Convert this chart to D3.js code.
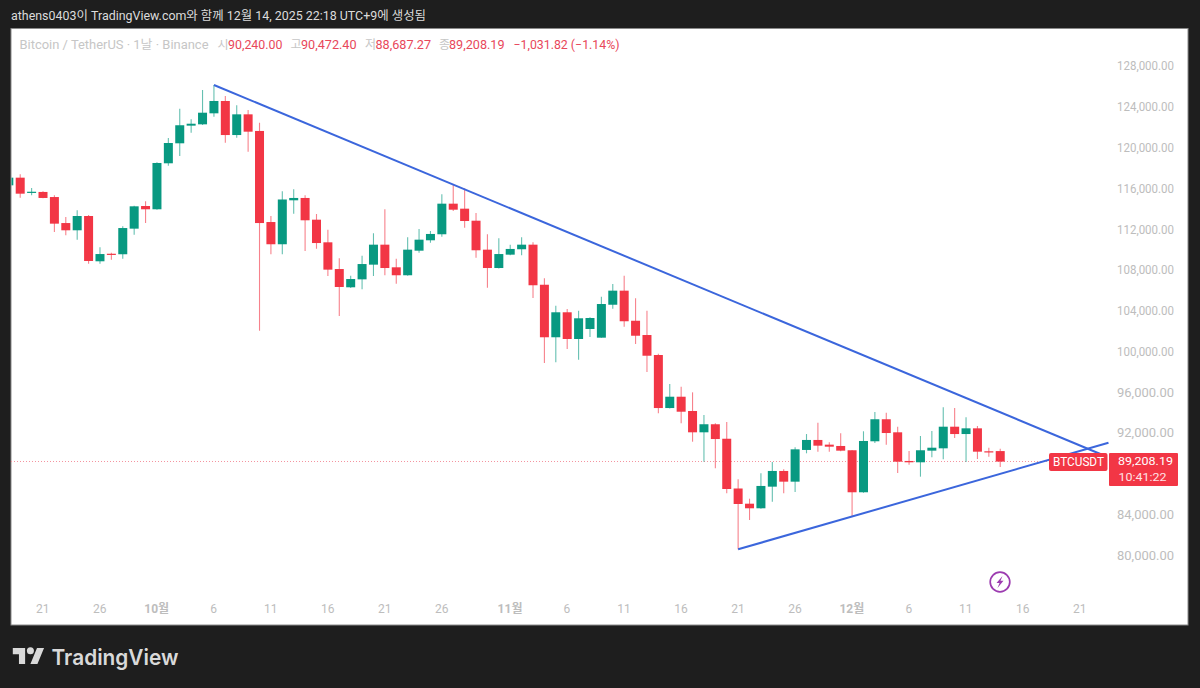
<!DOCTYPE html>
<html lang="ko"><head><meta charset="utf-8">
<script src="https://cdn.jsdelivr.net/npm/d3@7/dist/d3.min.js"></script>
<style>html,body{margin:0;padding:0;background:#1e1e1e}svg{display:block}</style></head>
<body><svg id="c" width="1200" height="688"></svg>
<script>
// One entry per day, 2025-09-18 to 2025-12-14
const firstDay = "2025-09-18", lastDay = "2025-12-14";
const opens = [116300,117050,115580,115650,115150,112600,111890,113290,108850,109590,109540,112050,114270,113950,118460,120420,122150,122280,123360,124570,121230,123260,121630,112700,110520,114830,115060,112930,110710,108090,106300,107080,108520,110480,108260,107480,109890,110910,111500,114500,114010,112830,109990,108190,109500,110030,110480,106550,101400,103850,101230,102210,101360,104590,105970,103020,101620,99660,94460,95570,94170,92080,92870,91450,86570,85080,84630,86750,88290,87240,90350,91330,90870,90740,90320,86200,91200,93360,92080,89270,89140,90280,90510,92630,91910,92470,90220,90240];
const highs = [117210,117380,116040,115710,115320,113190,113850,113390,110220,109690,112280,114300,114730,118560,120940,123810,122770,125650,126140,125060,124150,123690,122440,113290,115710,115910,115320,113490,111950,109140,107440,109400,111590,113950,109100,111200,112020,111820,115420,116330,116010,113590,111500,111100,110480,111200,110710,107180,104500,104170,104000,103360,105380,106620,107440,105220,104000,99790,96820,96550,96000,93780,92960,93090,87470,85570,88060,89170,88450,90610,91910,93020,91100,91980,90350,92180,94070,94000,92630,90250,91720,92210,94530,94460,93550,92700,90570,90472];
const lows = [116135,115090,115320,115030,111720,111400,110970,108610,108610,109010,109100,111460,112600,113900,118220,119170,121460,122210,123030,120480,120970,119600,102040,109550,109540,113520,109860,110080,107410,103490,106230,106100,107410,107480,106650,107430,109690,110670,111260,113780,112140,109200,106260,108140,109440,109440,105250,98880,98950,100250,99200,101430,101360,104200,102440,100740,98000,93940,94410,92960,91160,89200,88550,86100,80610,83480,84580,85280,86100,86230,90020,90180,90180,90230,83800,86150,91030,90870,88090,88900,87730,89630,89430,91520,89170,89460,89690,88687];
const closes = [117050,115480,115670,115060,112540,111890,113290,108880,109560,109500,112110,114240,113950,118490,120450,122190,122340,123420,124570,121230,123260,121560,112600,110520,114910,115060,112870,110640,108030,106330,107110,108580,110480,108190,107480,109990,110970,111530,114500,113910,112800,109930,108190,109560,110060,110480,106500,101400,103850,101230,103260,103290,104660,105970,102970,101550,99590,94460,95570,94100,92080,92870,91420,86520,85050,84630,86820,88290,87240,90410,91330,90770,90670,90280,86200,91230,93360,92010,89200,89140,90320,90570,92630,91910,92470,90180,90150,89208.19];

const priceTicks = [128000,124000,120000,116000,112000,108000,104000,100000,96000,92000,84000,80000];
const dateTicks = ["2025-09-21","2025-09-26","2025-10-01","2025-10-06","2025-10-11","2025-10-16","2025-10-21","2025-10-26","2025-11-01","2025-11-06","2025-11-11","2025-11-16","2025-11-21","2025-11-26","2025-12-01","2025-12-06","2025-12-11","2025-12-16","2025-12-21"];
const monthNames = {"2025-10-01":"10월","2025-11-01":"11월","2025-12-01":"12월"};

const fallingLineDates = ["2025-10-06","2025-12-23"];
const fallingLinePrices = [126140,89855];
const risingLineDates = ["2025-11-21","2025-12-23T12:00:00Z"];
const risingLinePrices = [80610,91060];
const lastClose = 89208.19;

const headerText = "athens0403이 TradingView.com와 함께 12월 14, 2025 22:18 UTC+9에 생성됨";
const legendName = "Bitcoin / TetherUS · 1날 · Binance";
const legendKeys = ["시","고","저","종"];
const legendVals = ["90,240.00","90,472.40","88,687.27","89,208.19"];
const legendChange = "−1,031.82 (−1.14%)";

const RED="#f23645", GREEN="#089981", BLUE="#3b66dc", FONT="Roboto,'Noto Sans CJK KR',sans-serif";
const FRAME={l:11,t:28.5,r:1188,b:625};

const svg=d3.select("#c");
const days=d3.utcDay.range(new Date(firstDay+"T00:00:00Z"),d3.utcDay.offset(new Date(lastDay+"T00:00:00Z"),1));
const parse=s=>new Date(s.length>10?s:s+"T00:00:00Z");
const x=d3.scaleUtc().domain([parse("2025-09-21"),parse("2025-12-21")]).range([43,1080]);
const y=d3.scaleLinear().domain([80000,128000]).range([555.5,66]);

svg.append("rect").attr("width",1200).attr("height",688).attr("fill","#1e1e1e");
svg.append("rect").attr("x",FRAME.l).attr("y",FRAME.t).attr("width",FRAME.r-FRAME.l).attr("height",FRAME.b-FRAME.t)
  .attr("fill","#fff").attr("stroke","#8a8a8a").attr("stroke-width",1);
svg.append("clipPath").attr("id","plot").append("rect").attr("x",FRAME.l+.5).attr("y",FRAME.t).attr("width",FRAME.r-FRAME.l).attr("height",FRAME.b-FRAME.t);

function txt(s,xp,yp,size,fill,len,extra){
  const t=svg.append("text").text(s).attr("x",xp).attr("y",yp).attr("font-size",size).attr("fill",fill)
    .attr("font-family",FONT).attr("dominant-baseline","central");
  if(len) t.attr("textLength",len).attr("lengthAdjust","spacingAndGlyphs");
  if(extra) extra(t);
  return t;
}
// header + legend
txt(headerText,11,16,12,"#dcdcdc",415);
txt(legendName,19.5,45,12,"#c6c6c6",189);
const keyX=[217.5,290.5,365,439], valX=[228,301,375.5,449];
legendKeys.forEach((k,i)=>{
  txt(k,keyX[i],45,12,"#c6c6c6");
  txt(legendVals[i],valX[i],45,12,"#e8475a",i==0?54.5:55.5);
});
txt(legendChange,513.5,45,12,"#e8475a",106);

// axes
const yAxis=d3.axisRight(y).tickValues(priceTicks).tickSize(0).tickPadding(0)
  .tickFormat(d=>d3.format(",.2f")(d));
const yG=svg.append("g").attr("transform","translate(1117,0)").call(yAxis);
yG.select(".domain").remove();
yG.selectAll("text").attr("font-family",FONT).attr("font-size",12).attr("fill","#bdbdbd")
  .attr("textLength",57).attr("lengthAdjust","spacingAndGlyphs");

const xAxis=d3.axisBottom(x).tickValues(dateTicks.map(parse)).tickSize(0).tickPadding(0)
  .tickFormat(d=>{const k=d3.utcFormat("%Y-%m-%d")(d);return monthNames[k]||d3.utcFormat("%-d")(d);});
const xG=svg.append("g").attr("transform","translate(-0.7,604.5)").call(xAxis);
xG.select(".domain").remove();
xG.selectAll("text").attr("font-family",FONT).attr("font-size",12).attr("fill","#bdbdbd")
  .attr("font-weight",d=>monthNames[d3.utcFormat("%Y-%m-%d")(d)]?700:400);

// price line
const lastY=Math.floor(y(lastClose))+.5;
svg.append("line").attr("x1",FRAME.l).attr("x2",1050).attr("y1",lastY).attr("y2",lastY)
  .attr("stroke","#f4949f").attr("stroke-dasharray","1 2");

// candles
const rows=days.map((d,i)=>({d,o:opens[i],h:highs[i],l:lows[i],c:closes[i]}));
const g=svg.append("g").attr("clip-path","url(#plot)");
const col=r=>r.c>=r.o?GREEN:RED;
g.selectAll("line.w").data(rows).join("line").attr("class","w")
  .attr("x1",r=>x(r.d)).attr("x2",r=>x(r.d)).attr("y1",r=>y(r.h)).attr("y2",r=>y(r.l))
  .attr("stroke",col).attr("stroke-opacity",.62).attr("stroke-width",1.1);
const bodyW=9;
g.selectAll("rect.b").data(rows).join("rect").attr("class","b")
  .attr("x",r=>x(r.d)-bodyW/2).attr("width",bodyW)
  .attr("y",r=>y(Math.max(r.o,r.c))).attr("height",r=>Math.max(1.2,Math.abs(y(r.o)-y(r.c))))
  .attr("fill",col);

// trend lines
const tl=d3.line().x(p=>x(p[0])).y(p=>y(p[1]));
[[fallingLineDates,fallingLinePrices],[risingLineDates,risingLinePrices]].forEach(([ds,ps])=>{
  svg.append("path").attr("d",tl(ds.map((s,i)=>[parse(s),ps[i]]))).attr("fill","none")
    .attr("stroke",BLUE).attr("stroke-width",2);
});

// last price tags
svg.append("rect").attr("x",1049).attr("y",453).attr("width",58.5).attr("height",18).attr("rx",2).attr("fill",RED);
svg.append("rect").attr("x",1109).attr("y",453).attr("width",69).attr("height",33).attr("rx",1).attr("fill",RED);
txt("BTCUSDT",1053,462,12,"#fff",51);
txt("89,208.19",1118,461,11.5,"#fff",55);
txt("10:41:22",1118.5,476.5,11.5,"#ffe3e6",48);

// lightning icon
const ic=svg.append("g").attr("transform","translate(1000,582)");
ic.append("circle").attr("r",9.8).attr("fill","#fff").attr("stroke","#9c3bb0").attr("stroke-width",1.7);
ic.append("path").attr("d","M2.5-6L-3.5 1H-.5L-2.5 6L3.5-1.2H.5Z").attr("fill","#9c3bb0");

// logo
const lg=svg.append("g").attr("transform","translate(12.8,644.6) scale(.88)").attr("fill","#d9d9d9");
lg.append("path").attr("d","M14 22H7V11H0V4h14v18zM28 22h-8l7.5-18h8L28 22z");
lg.append("circle").attr("cx",20).attr("cy",7).attr("r",4);
txt("TradingView",51.5,656.5,22,"#d9d9d9",127,t=>t.attr("font-family","Inter,Roboto,sans-serif").attr("font-weight",600));
</script></body></html>
